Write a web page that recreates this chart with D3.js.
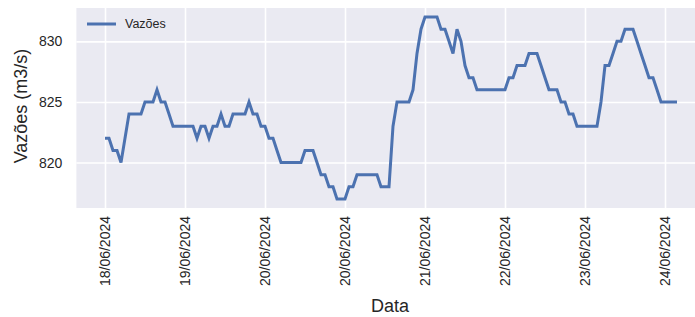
<!DOCTYPE html>
<html>
<head>
<meta charset="utf-8">
<script src="https://cdn.jsdelivr.net/npm/d3@7"></script>
<style>
  html, body { margin: 0; padding: 0; background: #ffffff; }
  svg { display: block; }
  text { font-family: "Liberation Sans", Arial, sans-serif; }
</style>
</head>
<body>
<div id="chart"></div>
<script>
// ---- data ----
const seriesName = "Vazões";
const vazoes = [
  822, 822, 821, 821, 820, 822, 824, 824, 824, 824,
  825, 825, 825, 826, 825, 825, 824, 823, 823, 823,
  823, 823, 823, 822, 823, 823, 822, 823, 823, 824,
  823, 823, 824, 824, 824, 824, 825, 824, 824, 823,
  823, 822, 822, 821, 820, 820, 820, 820, 820, 820,
  821, 821, 821, 820, 819, 819, 818, 818, 817, 817,
  817, 818, 818, 819, 819, 819, 819, 819, 819, 818,
  818, 818, 823, 825, 825, 825, 825, 826, 829, 831,
  832, 832, 832, 832, 831, 831, 830, 829, 831, 830,
  828, 827, 827, 826, 826, 826, 826, 826, 826, 826,
  826, 827, 827, 828, 828, 828, 829, 829, 829, 828,
  827, 826, 826, 826, 825, 825, 824, 824, 823, 823,
  823, 823, 823, 823, 825, 828, 828, 829, 830, 830,
  831, 831, 831, 830, 829, 828, 827, 827, 826, 825,
  825, 825, 825, 825
];
const tickIndex = [0, 20, 40, 60, 80, 100, 120, 140];
const tickLabels = ["18/06/2024", "19/06/2024", "20/06/2024", "20/06/2024",
                    "21/06/2024", "22/06/2024", "23/06/2024", "24/06/2024"];
const yTicks = [820, 825, 830];
const xLabel = "Data";
const yLabel = "Vazões (m3/s)";

// ---- layout ----
const W = 695, H = 317;
const plot = { left: 76.4, right: 705.6, top: 8, bottom: 208 };
const lineColor = "#4C72B0";
const bg = "#EAEAF2";

const n = vazoes.length;
const xPad = (n - 1) * 0.05;
const x = d3.scaleLinear()
  .domain([-xPad, (n - 1) + xPad])
  .range([plot.left, plot.right]);
const yMin = d3.min(vazoes), yMax = d3.max(vazoes);
const yPad = (yMax - yMin) * 0.05;
const y = d3.scaleLinear()
  .domain([yMin - yPad, yMax + yPad])
  .range([plot.bottom, plot.top]);

const svg = d3.select("#chart").append("svg")
  .attr("width", W).attr("height", H);

svg.append("rect")
  .attr("x", plot.left).attr("y", plot.top)
  .attr("width", plot.right - plot.left)
  .attr("height", plot.bottom - plot.top)
  .attr("fill", bg);

// grid lines via axes
const gx = svg.append("g")
  .attr("transform", `translate(0,${plot.bottom})`)
  .call(d3.axisBottom(x)
    .tickValues(tickIndex)
    .tickSize(-(plot.bottom - plot.top))
    .tickFormat((d, i) => tickLabels[i]));
gx.select(".domain").remove();
gx.selectAll(".tick line").attr("stroke", "#ffffff").attr("stroke-width", 1.6);
gx.selectAll(".tick text")
  .attr("fill", "#262626")
  .style("font-size", "14px")
  .attr("transform", "rotate(-90)")
  .attr("text-anchor", "end")
  .attr("x", -8)
  .attr("y", 0)
  .attr("dy", "0.35em");

const gy = svg.append("g")
  .attr("transform", `translate(${plot.left},0)`)
  .call(d3.axisLeft(y)
    .tickValues(yTicks)
    .tickSize(-(plot.right - plot.left))
    .tickPadding(14)
    .tickFormat(d3.format("d")));
gy.select(".domain").remove();
gy.selectAll(".tick line").attr("stroke", "#ffffff").attr("stroke-width", 1.6);
gy.selectAll(".tick text")
  .attr("fill", "#262626")
  .style("font-size", "14px");

// line
const line = d3.line()
  .x((d, i) => x(i))
  .y(d => y(d));
svg.append("path")
  .datum(vazoes)
  .attr("d", line)
  .attr("fill", "none")
  .attr("stroke", lineColor)
  .attr("stroke-width", 3)
  .attr("stroke-linejoin", "miter")
  .attr("stroke-linecap", "butt");

// legend
const lg = svg.append("g").attr("transform", "translate(87,24)");
lg.append("line")
  .attr("x1", 0).attr("x2", 29).attr("y1", 0).attr("y2", 0)
  .attr("stroke", lineColor).attr("stroke-width", 3);
lg.append("text")
  .attr("x", 38).attr("y", 0).attr("dy", "0.35em")
  .attr("fill", "#262626")
  .style("font-size", "12.5px")
  .text(seriesName);

// axis labels
svg.append("text")
  .attr("x", (plot.left + 705.6) / 2 - 1)
  .attr("y", 312)
  .attr("text-anchor", "middle")
  .attr("fill", "#262626")
  .style("font-size", "18px")
  .text(xLabel);

svg.append("text")
  .attr("transform", `translate(27,${(plot.top + plot.bottom) / 2 - 2}) rotate(-90)`)
  .attr("text-anchor", "middle")
  .attr("fill", "#262626")
  .style("font-size", "18px")
  .text(yLabel);
</script>
</body>
</html>
